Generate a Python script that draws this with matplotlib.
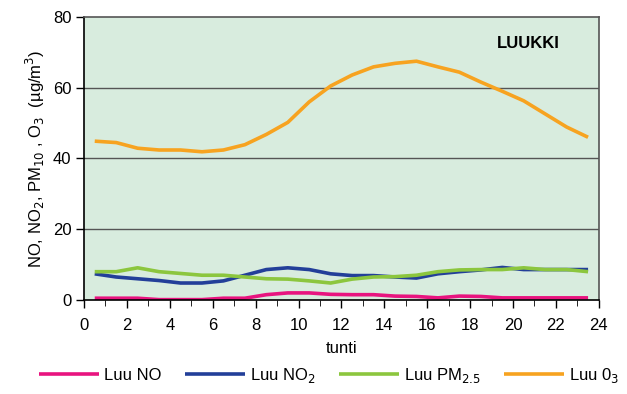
import matplotlib
matplotlib.use("Agg")
import matplotlib.pyplot as plt
from matplotlib.ticker import MultipleLocator

plt.rcParams['font.family'] = ['Liberation Sans', 'DejaVu Sans']

hours = [h + 0.5 for h in range(24)]
no = [0.5, 0.5, 0.5, 0.1, 0.1, 0.1, 0.5, 0.5, 1.5, 2.0, 2.0, 1.6, 1.5, 1.5, 1.1, 1.0, 0.6, 1.1, 1.0, 0.6, 0.6, 0.6, 0.6, 0.6]
no2 = [7.4, 6.5, 6.0, 5.5, 4.8, 4.8, 5.4, 7.0, 8.6, 9.1, 8.6, 7.4, 6.9, 6.9, 6.5, 6.2, 7.4, 8.0, 8.5, 9.2, 8.6, 8.6, 8.6, 8.6]
pm25 = [8.0, 8.0, 9.1, 8.0, 7.5, 7.0, 7.0, 6.5, 6.0, 5.9, 5.4, 4.8, 5.9, 6.5, 6.6, 7.0, 8.0, 8.5, 8.6, 8.6, 9.1, 8.6, 8.6, 8.0]
o3 = [44.9, 44.5, 42.9, 42.4, 42.4, 41.9, 42.4, 43.9, 46.8, 50.2, 56.0, 60.5, 63.6, 65.9, 66.9, 67.5, 65.9, 64.4, 61.6, 59.0, 56.3, 52.6, 48.9, 46.0]

series = [
    ("Luu NO", no, "#E8147F"),
    ("Luu NO$_2$", no2, "#233F99"),
    ("Luu PM$_{2.5}$", pm25, "#8CC63E"),
    ("Luu 0$_3$", o3, "#F7A320"),
]

fig = plt.figure(figsize=(6.27, 3.94), dpi=100)
ax = fig.add_axes([0.134, 0.2386, 0.821, 0.7183])
ax.set_facecolor("#D8ECDE")

for label, vals, col in series:
    ax.plot(hours, vals, color=col, lw=2.6, label=label, solid_capstyle="butt")

ax.set_xlim(0, 24)
ax.set_ylim(0, 80)
ax.xaxis.set_major_locator(MultipleLocator(2))
ax.xaxis.set_minor_locator(MultipleLocator(1))
ax.yaxis.set_major_locator(MultipleLocator(20))
ax.tick_params(axis="both", labelsize=12, direction="out", width=1, color="black")
ax.tick_params(axis="x", which="major", length=6, pad=7)
ax.tick_params(axis="x", which="minor", length=4)
ax.tick_params(axis="y", length=6, pad=3)

for y in [20, 40, 60]:
    ax.axhline(y, color="#555555", lw=1, zorder=1)

for s in ["left", "bottom"]:
    ax.spines[s].set_color("black")
    ax.spines[s].set_linewidth(1.2)
for s in ["top", "right"]:
    ax.spines[s].set_color("#555555")
    ax.spines[s].set_linewidth(1.2)

ax.set_xlabel("tunti", fontsize=12, labelpad=6)
ax.set_ylabel("NO, NO$_2$, PM$_{10}$ , O$_3$  (µg/m$^3$)", fontsize=12, labelpad=4)

ax.text(20.7, 72.5, "LUUKKI", fontsize=12, fontweight="bold", ha="center", va="center")

fig.legend(loc="lower center", bbox_to_anchor=(0.525, -0.015), ncol=4, frameon=False,
           fontsize=12, handlelength=3.6, columnspacing=1.4, handletextpad=0.3)

fig.savefig("out.png", dpi=100)
